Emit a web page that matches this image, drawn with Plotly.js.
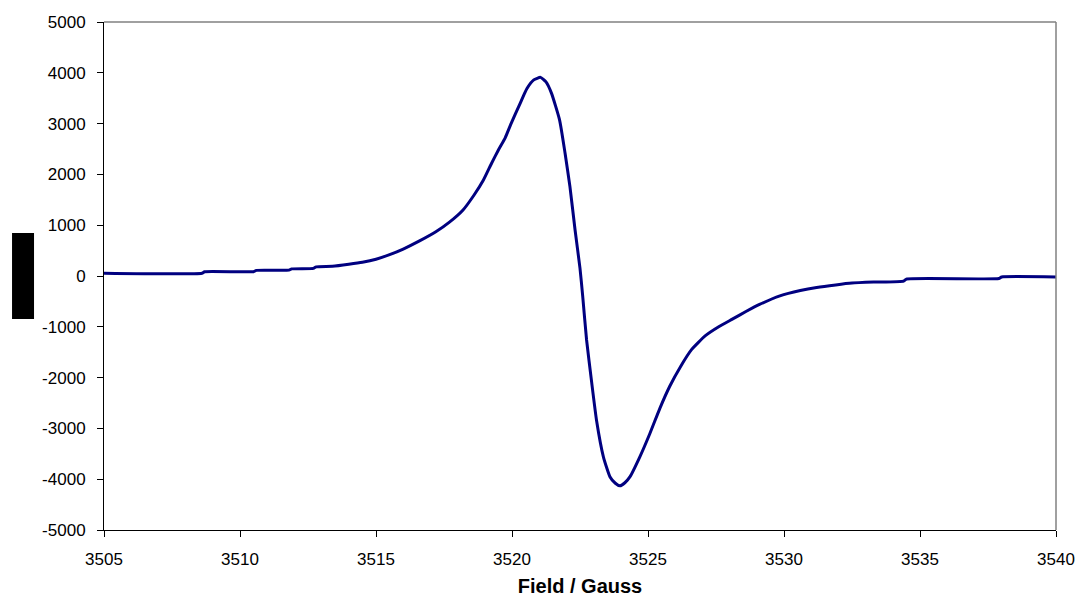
<!DOCTYPE html>
<html>
<head>
<meta charset="utf-8">
<script src="https://cdn.plot.ly/plotly-3.0.1.min.js"></script>
<style>html,body{margin:0;padding:0;background:#fff;}#chart{width:1079px;height:598px;}</style>
</head>
<body>
<div id="chart"></div>
<script>
var fieldGauss = [3505.0,3508.6,3508.7,3510.5,3510.6,3511.8,3511.9,3512.7,3512.8,3513.4,3514.0,3514.5,3515.0,3515.5,3516.0,3516.6,3517.2,3517.7,3518.2,3518.6,3518.95,3519.25,3519.5,3519.75,3519.95,3520.3,3520.55,3520.8,3521.05,3521.25,3521.45,3521.75,3521.95,3522.13,3522.32,3522.5,3522.6,3522.74,3522.93,3523.11,3523.36,3523.6,3523.8,3523.97,3524.15,3524.34,3524.7,3525.07,3525.44,3525.8,3526.2,3526.6,3527.1,3527.6,3528.1,3528.6,3529.1,3529.85,3530.6,3531.2,3531.9,3532.5,3533.3,3534.4,3534.5,3537.9,3538.0,3540.0];
var signal = [55,55,85,85,110,115,140,150,180,190,230,270,330,420,530,690,870,1060,1300,1590,1890,2220,2480,2720,2980,3400,3690,3860,3910,3820,3600,3070,2420,1760,900,150,-400,-1250,-2100,-2850,-3560,-3950,-4080,-4130,-4070,-3950,-3560,-3100,-2600,-2170,-1780,-1450,-1180,-1000,-850,-700,-560,-390,-285,-225,-175,-140,-120,-100,-60,-50,-20,-20];
var xTickVals = [3505,3510,3515,3520,3525,3530,3535,3540];
var xTickText = ["3505","3510","3515","3520","3525","3530","3535","3540"];
var yTickVals = [5000,4000,3000,2000,1000,0,-1000,-2000,-3000,-4000,-5000];
var yTickText = ["5000","4000","3000","2000","1000","0","-1000","-2000","-3000","-4000","-5000"];

var trace = {
  x: fieldGauss, y: signal, type: 'scatter', mode: 'lines',
  line: {color: '#000080', width: 3, shape: 'spline', smoothing: 0.5}, hoverinfo: 'skip'
};
var tickFont = {family: 'Liberation Sans, Arial, sans-serif', size: 17, color: '#000'};
var layout = {
  width: 1079, height: 598,
  margin: {l: 104, r: 23, t: 22, b: 68},
  paper_bgcolor: '#fff', plot_bgcolor: '#fff',
  showlegend: false,
  xaxis: {
    range: [3505, 3540], tickvals: xTickVals, ticktext: xTickText,
    ticks: 'outside', ticklen: 6, tickcolor: '#000', tickwidth: 1,
    showline: true, linecolor: '#000', linewidth: 1,
    showgrid: false, zeroline: false, tickfont: tickFont,
    ticklabelstandoff: 8,
    title: {text: 'Field / Gauss', font: {family: 'Liberation Sans, Arial, sans-serif', size: 20, color: '#000', weight: 'bold'}, standoff: 10}
  },
  yaxis: {
    range: [-5000, 5000], tickvals: yTickVals, ticktext: yTickText,
    ticks: 'outside', ticklen: 6, tickcolor: '#000', tickwidth: 1,
    showline: true, linecolor: '#000', linewidth: 1,
    showgrid: false, zeroline: false, tickfont: tickFont,
    ticklabelstandoff: 8
  },
  shapes: [
    {type: 'line', xref: 'paper', yref: 'paper', x0: 0, x1: 1, y0: 1, y1: 1, line: {color: '#808080', width: 1.5}},
    {type: 'line', xref: 'paper', yref: 'paper', x0: 1, x1: 1, y0: 0, y1: 1, line: {color: '#808080', width: 1.5}},
    {type: 'rect', xref: 'paper', yref: 'paper', x0: -0.0966, x1: -0.0735, y0: 0.4154, y1: 0.5846, fillcolor: '#000', line: {width: 0}}
  ]
};
Plotly.newPlot('chart', [trace], layout, {displayModeBar: false, staticPlot: true});
</script>
</body>
</html>
